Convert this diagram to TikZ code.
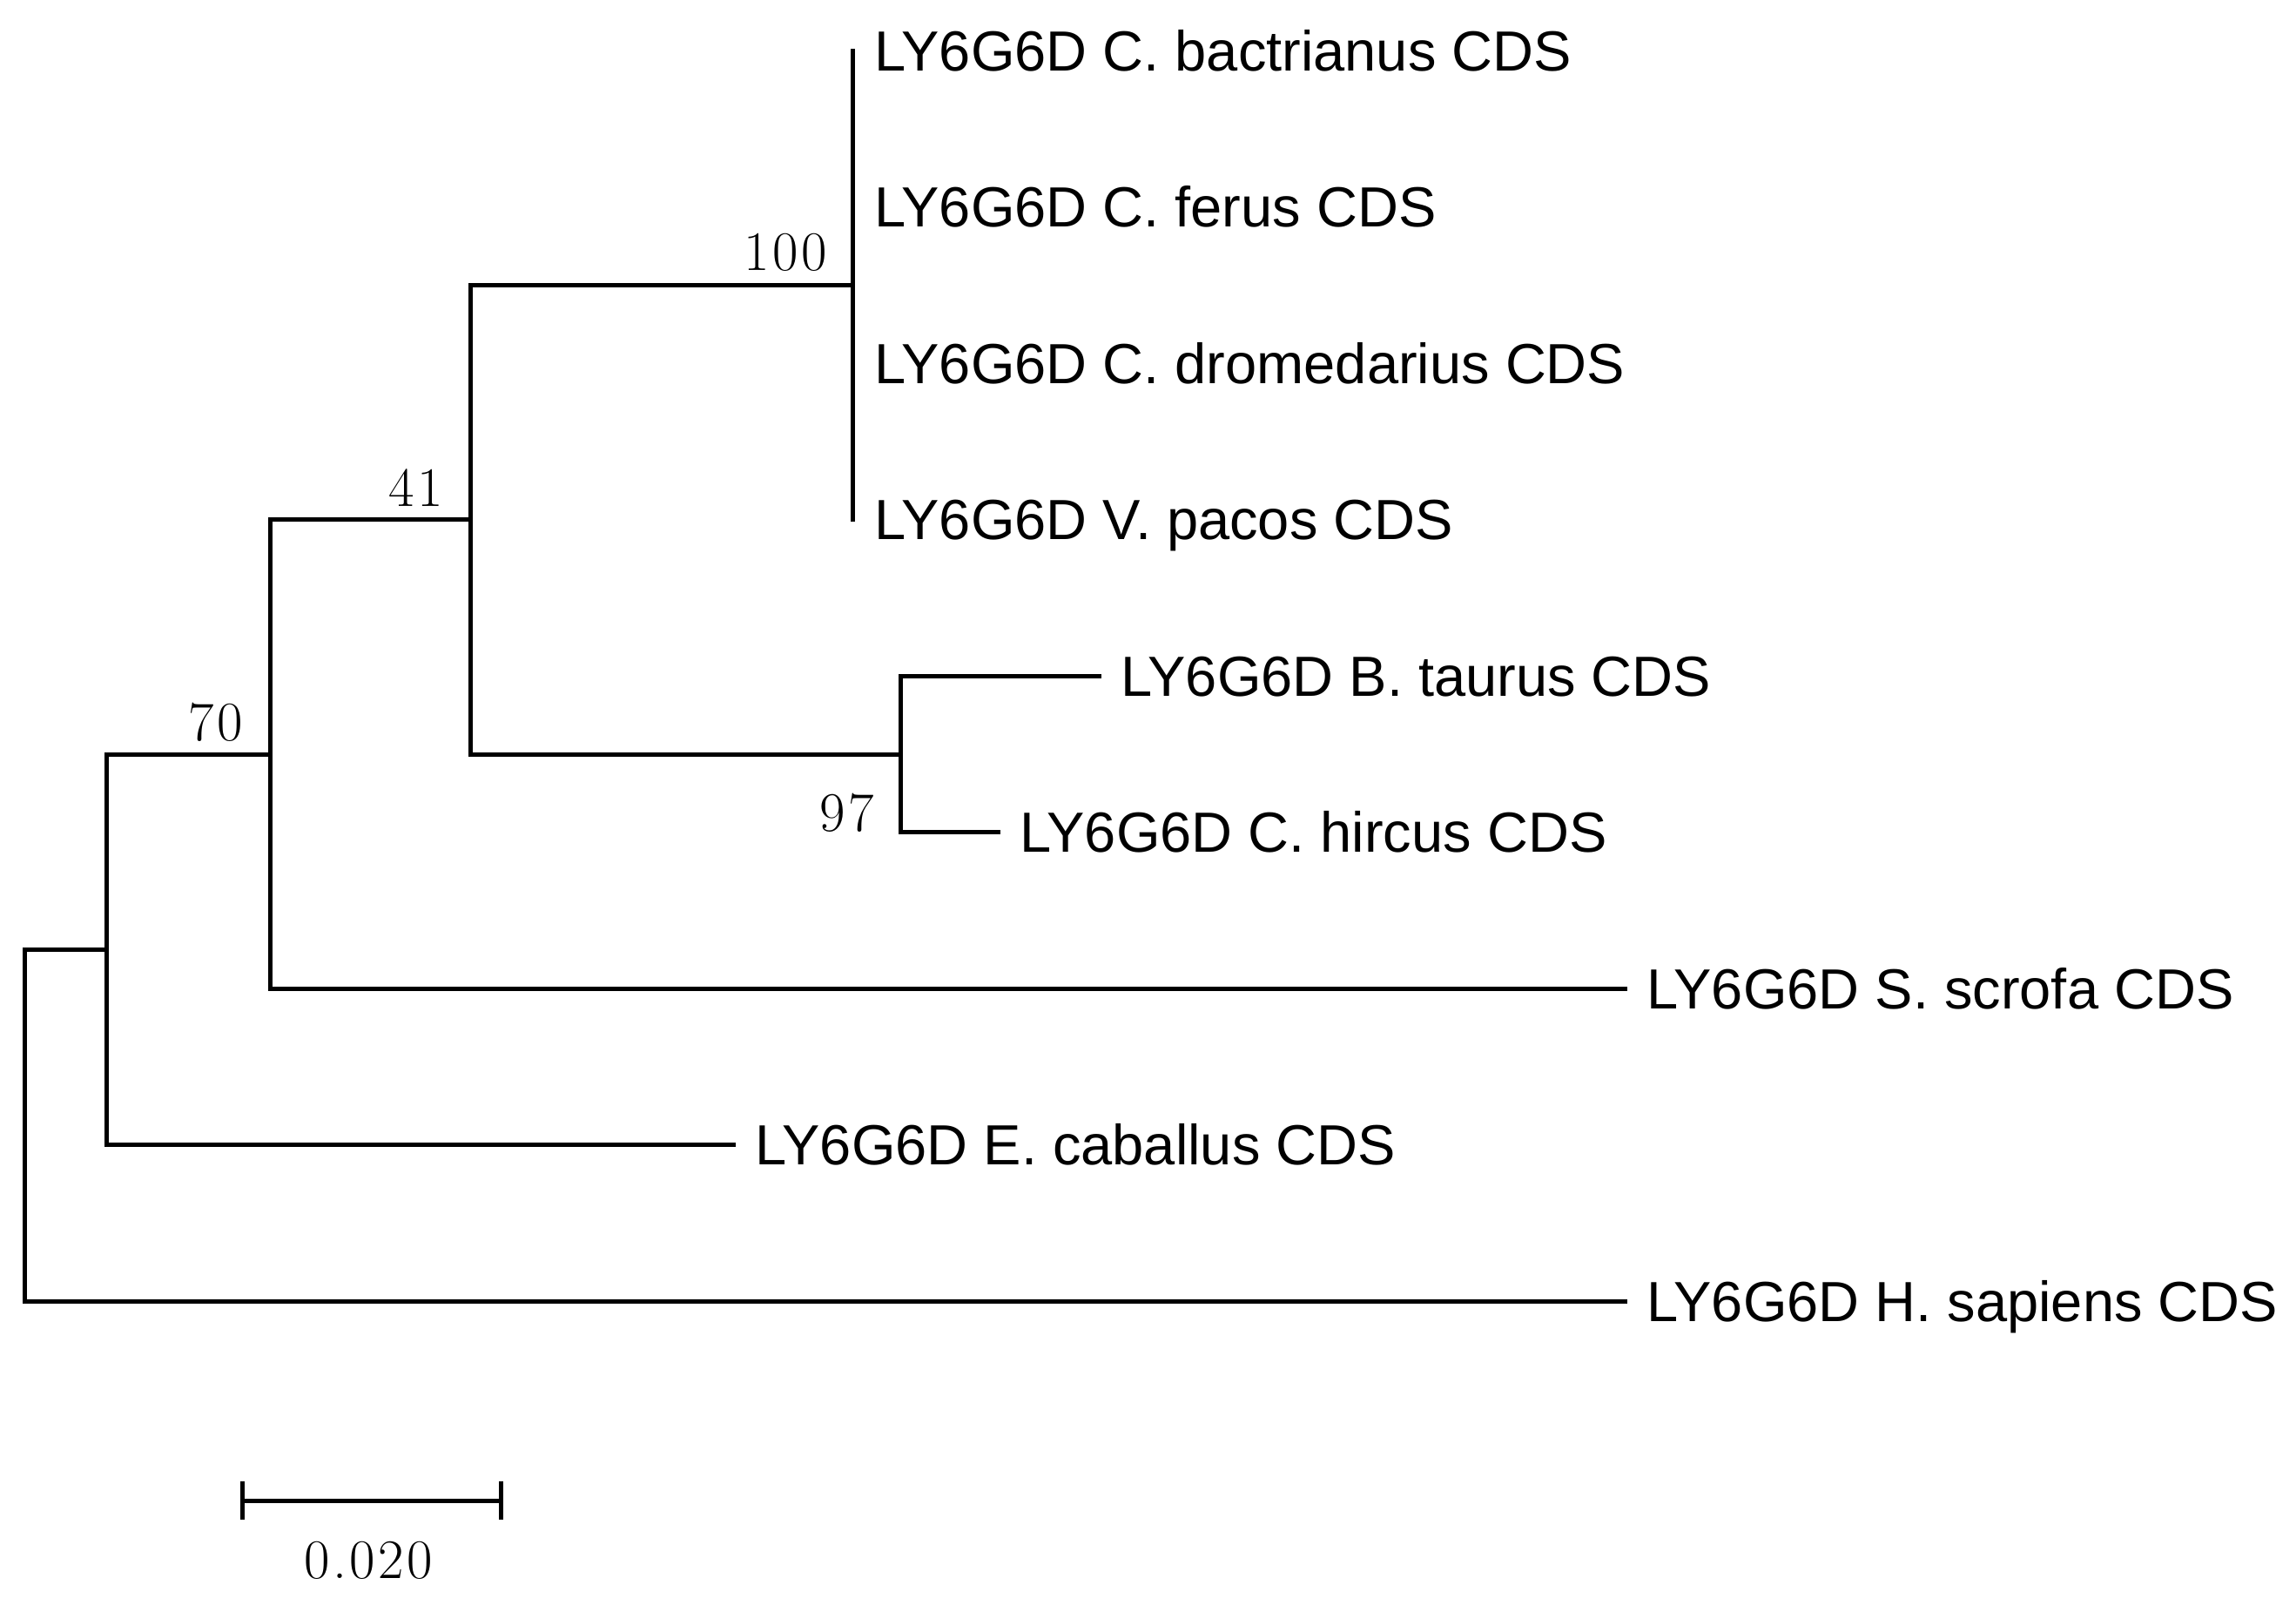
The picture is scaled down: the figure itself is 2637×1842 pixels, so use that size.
\documentclass[tikz,border=0pt]{standalone}
\usepackage{fontspec}
\newfontfamily\labfont{Liberation Sans}
\newcommand{\dk}{\kern3.5pt}
\begin{document}
\begin{tikzpicture}[x=1pt,y=-1pt,
  branch/.style={line width=5pt, line cap=rect, line join=miter},
  lab/.style={anchor=base west, inner sep=0pt, xshift=25pt, yshift=-23pt,
    font=\labfont\fontsize{65}{70}\selectfont},
  bs/.style={anchor=center, inner sep=0pt, font=\fontsize{64}{70}\selectfont}]
\useasboundingbox (0,0) rectangle (2637,1842);
% tips
\coordinate (t1) at (979,58);
\coordinate (t2) at (979,237.5);
\coordinate (t3) at (979,417);
\coordinate (t4) at (979,596.5);
\coordinate (t5) at (1262,776);
\coordinate (t6) at (1146,955.5);
\coordinate (t7) at (1866,1135);
\coordinate (t8) at (842,1314.5);
\coordinate (t9) at (1866,1494);
% internal nodes
\coordinate (cam) at (979,327);
\coordinate (bov) at (1034,866);
\coordinate (n41) at (540,596.5);
\coordinate (n70) at (310,866);
\coordinate (ne) at (122,1090);
\coordinate (root) at (28,1292);
% branches
\draw[branch] (t1) -- (t4);
\draw[branch] (n41) |- (cam);
\draw[branch] (n41) |- (bov);
\draw[branch] (bov) |- (t5);
\draw[branch] (bov) |- (t6);
\draw[branch] (n70) |- (n41);
\draw[branch] (n70) |- (t7);
\draw[branch] (ne) |- (n70);
\draw[branch] (ne) |- (t8);
\draw[branch] (root) |- (ne);
\draw[branch] (root) |- (t9);
% tip labels
\node[lab] (L1) at (t1) {LY6G6D C. bactrianus CDS};
\node[lab] (L2) at (t2) {LY6G6D C. ferus CDS};
\node[lab] (L3) at (t3) {LY6G6D C. dromedarius CDS};
\node[lab] (L4) at (t4) {LY6G6D V. pacos CDS};
\node[lab] (L5) at (t5) {LY6G6D B. taurus CDS};
\node[lab] (L6) at (t6) {LY6G6D C. hircus CDS};
\node[lab] (L7) at (t7) {LY6G6D S. scrofa CDS};
\node[lab] (L8) at (t8) {LY6G6D E. caballus CDS};
\node[lab] (L9) at (t9) {LY6G6D H. sapiens CDS};
% bootstrap values
\node[bs] (b100) at (902,290) {1\dk0\dk0};
\node[bs] (b41) at (478,560) {4\dk1};
\node[bs] (b70) at (248,829) {7\dk0};
\node[bs] (b97) at (973,933) {9\dk7};
% scale bar
\coordinate (sa) at (278,1723);
\coordinate (sb) at (575,1723);
\draw[line width=5pt] (sa) -- (sb);
\draw[line width=5pt] ([yshift=22pt]sa) -- ([yshift=-22pt]sa);
\draw[line width=5pt] ([yshift=22pt]sb) -- ([yshift=-22pt]sb);
\node[bs] (scale) at (423,1792) {0\dk.\dk0\dk2\dk0};
\end{tikzpicture}
\end{document}
